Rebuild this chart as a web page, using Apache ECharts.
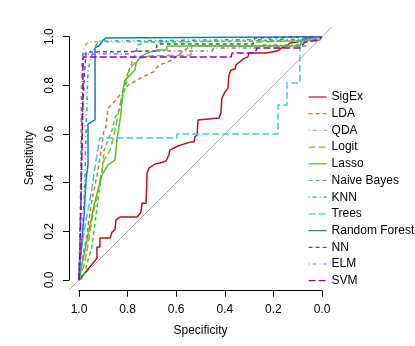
<!DOCTYPE html>
<html>
<head>
<meta charset="utf-8">
<script src="https://cdn.jsdelivr.net/npm/echarts@6/dist/echarts.min.js"></script>
<style>
  html, body { margin: 0; padding: 0; background: #fff; }
  #chart { width: 415px; height: 346px; }
</style>
</head>
<body>
<div id="chart"></div>
<script>
// ROC curves, points are [specificity, sensitivity]
const sigex = [[1,0],[0.926,0.090],[0.926,0.136],[0.914,0.136],[0.914,0.173],[0.872,0.173],[0.864,0.197],[0.852,0.206],[0.848,0.247],[0.831,0.259],[0.761,0.259],[0.745,0.279],[0.741,0.316],[0.724,0.316],[0.720,0.440],[0.712,0.460],[0.687,0.477],[0.667,0.481],[0.642,0.489],[0.630,0.514],[0.626,0.534],[0.593,0.551],[0.543,0.567],[0.527,0.567],[0.523,0.588],[0.514,0.596],[0.510,0.658],[0.502,0.666],[0.424,0.666],[0.416,0.686],[0.412,0.748],[0.407,0.752],[0.399,0.773],[0.391,0.777],[0.387,0.789],[0.383,0.843],[0.374,0.863],[0.358,0.867],[0.354,0.884],[0.325,0.908],[0.305,0.917],[0.300,0.933],[0.230,0.933],[0.185,0.941],[0.165,0.954],[0.144,0.962],[0.132,0.974],[0.103,0.978],[0.062,0.995],[0,1]]
const lda = [[1,0],[0.992,0.041],[0.984,0.103],[0.971,0.164],[0.959,0.247],[0.947,0.329],[0.934,0.390],[0.922,0.452],[0.909,0.534],[0.897,0.617],[0.889,0.629],[0.881,0.707],[0.860,0.727],[0.798,0.801],[0.782,0.810],[0.761,0.822],[0.741,0.834],[0.720,0.843],[0.695,0.855],[0.679,0.875],[0.667,0.884],[0.638,0.896],[0.617,0.904],[0.593,0.925],[0.564,0.945],[0.543,0.962],[0.066,0.962],[0.062,0.986],[0,1]]
const qda = [[1,0],[0.996,0.247],[0.992,0.493],[0.992,0.740],[0.988,0.904],[0.979,0.958],[0.963,0.978],[0.020,0.982],[0,1]]
const logit = [[1,0],[0.979,0.062],[0.963,0.144],[0.947,0.247],[0.930,0.329],[0.914,0.411],[0.897,0.493],[0.872,0.534],[0.856,0.596],[0.840,0.678],[0.827,0.740],[0.815,0.789],[0.802,0.843],[0.790,0.871],[0.770,0.892],[0.749,0.912],[0.708,0.921],[0.539,0.925],[0.535,0.962],[0.288,0.962],[0.280,0.978],[0.010,0.986],[0,1]]
const lasso = [[1,0],[0.988,0.062],[0.971,0.144],[0.955,0.226],[0.938,0.308],[0.922,0.370],[0.905,0.432],[0.881,0.473],[0.852,0.493],[0.844,0.575],[0.831,0.658],[0.823,0.732],[0.819,0.781],[0.811,0.822],[0.798,0.834],[0.782,0.851],[0.770,0.863],[0.765,0.892],[0.749,0.917],[0.720,0.933],[0.679,0.945],[0.638,0.945],[0.638,0.962],[0.091,0.962],[0.082,0.986],[0,1]]
const naiveBayes = [[1,0],[0.984,0.008],[0.963,0.082],[0.947,0.136],[0.934,0.234],[0.922,0.329],[0.905,0.452],[0.897,0.534],[0.881,0.575],[0.864,0.617],[0.852,0.666],[0.831,0.707],[0.815,0.773],[0.802,0.822],[0.794,0.863],[0.782,0.896],[0.770,0.925],[0.757,0.966],[0.728,0.978],[0.010,0.986],[0,1]]
const knn = [[1,0],[0.988,0.164],[0.979,0.329],[0.975,0.452],[0.971,0.617],[0.967,0.740],[0.963,0.863],[0.947,0.925],[0.930,0.966],[0.914,0.982],[0.008,0.991],[0,1]]
const trees = [[1,0],[0.996,0.074],[0.984,0.164],[0.971,0.247],[0.955,0.329],[0.942,0.411],[0.930,0.493],[0.922,0.534],[0.914,0.584],[0.597,0.584],[0.597,0.600],[0.181,0.600],[0.181,0.719],[0.144,0.719],[0.144,0.810],[0.091,0.810],[0.091,0.966],[0.070,0.986],[0,1]]
const randomForest = [[1,0],[0.996,0.082],[0.988,0.164],[0.979,0.267],[0.975,0.349],[0.971,0.411],[0.963,0.473],[0.963,0.641],[0.951,0.649],[0.934,0.658],[0.934,0.954],[0.914,0.966],[0.901,0.986],[0.889,0.995],[0.881,1],[0,1]]
const nn = [[1,0],[0.996,0.164],[0.992,0.329],[0.988,0.658],[0.979,0.822],[0.971,0.937],[0.963,0.941],[0.683,0.941],[0.679,0.970],[0.284,0.970],[0.276,0.995],[0,1]]
const elm = [[1,0],[0.992,0.329],[0.988,0.740],[0.984,0.929],[0.790,0.929],[0.782,0.941],[0.453,0.941],[0.444,0.954],[0.259,0.954],[0.255,0.966],[0.091,0.966],[0.082,0.986],[0,1]]
const svm = [[1,0],[0.996,0.123],[0.992,0.329],[0.988,0.534],[0.984,0.740],[0.984,0.917],[0.374,0.917],[0.370,0.933],[0.276,0.933],[0.267,0.954],[0.091,0.954],[0.070,0.978],[0.016,0.986],[0,1]]
const chance = [[1.04,-0.04],[-0.04,1.04]]

// R pads the plotting region 4% beyond the axes' range
const plotMin = -0.04
const plotMax = 1.04

const solid = 'solid'
const dashed = [4, 3]
const dotdash = [1, 3, 4, 3]
const longdash = [7, 3]

const models = [
  { name: 'SigEx', data: sigex, color: '#B8141F', type: solid },
  { name: 'LDA', data: lda, color: '#D2733A', type: dashed },
  { name: 'QDA', data: qda, color: '#CCB33D', type: dotdash },
  { name: 'Logit', data: logit, color: '#94B520', type: longdash },
  { name: 'Lasso', data: lasso, color: '#5CBF2A', type: solid },
  { name: 'Naive Bayes', data: naiveBayes, color: '#33CC44', type: dashed },
  { name: 'KNN', data: knn, color: '#20B08A', type: dotdash },
  { name: 'Trees', data: trees, color: '#4CC8CC', type: longdash },
  { name: 'Random Forest', data: randomForest, color: '#1E78C8', type: solid },
  { name: 'NN', data: nn, color: '#3F51C0', type: dashed },
  { name: 'ELM', data: elm, color: '#8470DC', type: dotdash },
  { name: 'SVM', data: svm, color: '#8A00C8', type: longdash },
]

const font = '"Liberation Sans", Arial, sans-serif'
const txt = { fontFamily: font, fontSize: 12, color: '#000' }
const chart = echarts.init(document.getElementById('chart'), null, { renderer: 'canvas' })

const hidden = { show: false }

chart.setOption({
  animation: false,
  backgroundColor: '#fff',
  grid: [
    // plotting region (data)
    { left: 69.3, top: 27, width: 262.4, height: 262.8 },
    // axes region, 0..1
    { left: 79, top: 36.7, width: 243, height: 243.3 },
  ],
  legend: {
    orient: 'vertical',
    left: 303,
    top: 86,
    itemWidth: 18,
    itemHeight: 12,
    itemGap: 4.7,
    itemStyle: { opacity: 0 },
    lineStyle: { width: 1.2 },
    textStyle: txt,
    data: models.map((m) => m.name),
  },
  xAxis: [
    { type: 'value', gridIndex: 0, min: plotMin, max: plotMax, inverse: true, axisLine: hidden, axisTick: hidden, axisLabel: hidden, splitLine: hidden },
    {
      type: 'value',
      gridIndex: 1,
      min: 0,
      max: 1,
      interval: 0.2,
      inverse: true,
      offset: 10.7,
      name: 'Specificity',
      nameLocation: 'middle',
      nameGap: 34,
      nameTextStyle: txt,
      axisLine: { show: true, onZero: false, lineStyle: { color: '#000', width: 1 } },
      axisTick: { show: true, length: 6, lineStyle: { color: '#000' } },
      axisLabel: { ...txt, margin: 13, formatter: (v) => v.toFixed(1) },
      splitLine: hidden,
    },
  ],
  yAxis: [
    { type: 'value', gridIndex: 0, min: plotMin, max: plotMax, axisLine: hidden, axisTick: hidden, axisLabel: hidden, splitLine: hidden },
    {
      type: 'value',
      gridIndex: 1,
      min: 0,
      max: 1,
      interval: 0.2,
      offset: 10,
      name: 'Sensitivity',
      nameLocation: 'middle',
      nameGap: 33,
      nameTextStyle: txt,
      axisLine: { show: true, onZero: false, lineStyle: { color: '#000', width: 1 } },
      axisTick: { show: true, length: 6, lineStyle: { color: '#000' } },
      axisLabel: { ...txt, margin: 13, rotate: 90, formatter: (v) => v.toFixed(1) },
      splitLine: hidden,
    },
  ],
  series: [
    {
      type: 'line',
      xAxisIndex: 0,
      yAxisIndex: 0,
      data: chance,
      symbol: 'none',
      silent: true,
      lineStyle: { color: '#A8A8A8', width: 1 },
    },
    ...models.map((m) => ({
      name: m.name,
      type: 'line',
      xAxisIndex: 0,
      yAxisIndex: 0,
      data: m.data,
      symbol: 'none',
      color: m.color,
      lineStyle: { color: m.color, width: 1.5, type: m.type },
    })),
  ],
})
</script>
</body>
</html>
